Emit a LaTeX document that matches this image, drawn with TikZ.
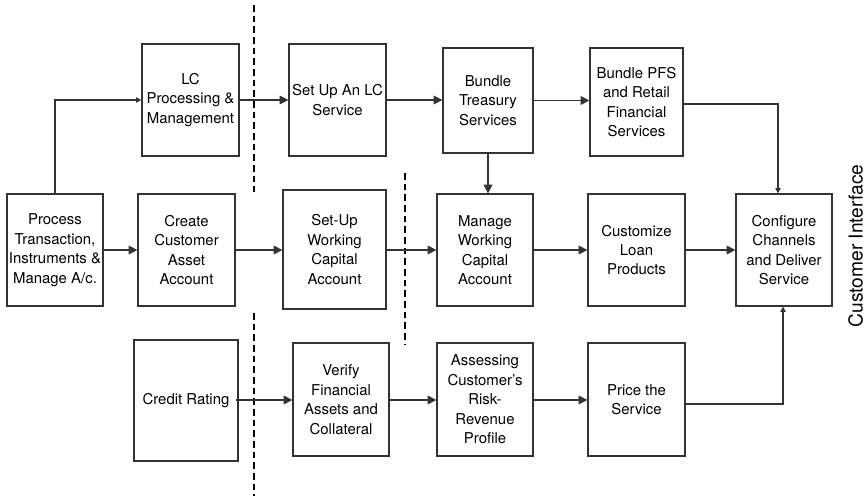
\documentclass[tikz,border=0pt]{standalone}
\usepackage{fontspec}
\setmainfont{TeX Gyre Heros}
\usetikzlibrary{arrows.meta}
\begin{document}
\begin{tikzpicture}[x=0.75pt,y=-0.75pt,
  box/.style 2 args={draw=black!80,line width=0.9pt,rectangle,inner sep=1pt,align=center,
    font=\fontsize{11.2}{14.6}\selectfont,
    minimum width=#1*0.75pt,minimum height=#2*0.75pt},
  flow/.style={draw=black!80,line width=0.9pt,-{Triangle[length=6.5pt,width=6.5pt]}},
  flowsm/.style={draw=black!80,line width=0.9pt,-{Triangle[length=4pt,width=4pt]}},
  divider/.style={draw=black,line width=1.3pt,dash pattern=on 5pt off 3pt}]
\useasboundingbox (0,0) rectangle (868,496);

% upper row
\node[box={97}{112}] (lc) at (190.5,100) {LC\\Processing \&\\Management};
\node[box={97}{112}] (setup) at (337.5,100) {Set Up An LC\\Service};
\node[box={90}{105}] (treas) at (488,100.5) {Bundle\\Treasury\\Services};
\node[box={93}{108}] (pfs) at (636.5,102) {Bundle PFS\\and Retail\\Financial\\Services};

% middle row
\node[box={96}{112}] (proc) at (55,250) {Process\\Transaction,\\Instruments \&\\Manage A/c.};
\node[box={97}{112}] (create) at (186.5,250) {Create\\Customer\\Asset\\Account};
\node[box={103}{119}] (setupwc) at (334.5,249.5) {Set-Up\\Working\\Capital\\Account};
\node[box={96}{112}] (manage) at (485,250) {Manage\\Working\\Capital\\Account};
\node[box={97}{112}] (custom) at (636.5,250) {Customize\\Loan\\Products};
\node[box={96}{112}] (config) at (784,250) {Configure\\Channels\\and Deliver\\Service};

% lower row
\node[box={104}{121}] (credit) at (186,400.5) {Credit Rating};
\node[box={96}{113}] (verify) at (341,399.5) {Verify\\Financial\\Assets and\\Collateral};
\node[box={96}{113}] (assess) at (485,399.5) {Assessing\\Customer's\\Risk-\\Revenue\\Profile};
\node[box={97}{113}] (price) at (636.5,399.5) {Price the\\Service};

% side caption
\node[rotate=90,font=\fontsize{14.4}{17}\selectfont,inner sep=0pt] (cust) at (855.5,246)
  {Customer Interface};

% stage dividers
\coordinate (d1a) at (254,5);   \coordinate (d1b) at (254,192);
\coordinate (d2a) at (405,173); \coordinate (d2b) at (405,345);
\coordinate (d3a) at (254,313); \coordinate (d3b) at (254,496);
\draw[divider] (d1a) -- (d1b);
\draw[divider] (d2a) -- (d2b);
\draw[divider] (d3a) -- (d3b);

% connectors
\draw[flowsm] (proc.north) |- (lc.west);
\draw[flow] (lc.east) -- (setup.west);
\draw[flow] (setup.east) -- (treas.west |- setup.east);
\draw[flow] (treas.east) -- (pfs.west |- treas.east);
\coordinate (pfsout) at (pfs.east |- 0,104);
\coordinate (pfsturn) at (778,104);
\draw[flowsm] (pfsout) -- (pfsturn) -- (pfsturn |- config.north);
\draw[flow] (treas.south) -- (treas.south |- manage.north);

\draw[flow] (proc.east) -- (create.west);
\draw[flow] (create.east) -- (setupwc.west |- create.east);
\draw[flow] (setupwc.east |- create.east) -- (manage.west);
\draw[flow] (manage.east) -- (custom.west);
\draw[flow] (custom.east) -- (config.west);

\draw[flow] ([xshift=-2.25pt]credit.east |- 0,400) -- (verify.west |- 0,400);
\draw[flow] (verify.east |- 0,400) -- (assess.west |- 0,400);
\draw[flow] (assess.east |- 0,400) -- (price.west |- 0,400);
\coordinate (priceout) at (price.east |- 0,404);
\coordinate (priceturn) at (783,404);
\draw[flowsm] (priceout) -- (priceturn) -- (priceturn |- config.south);
\end{tikzpicture}
\end{document}
